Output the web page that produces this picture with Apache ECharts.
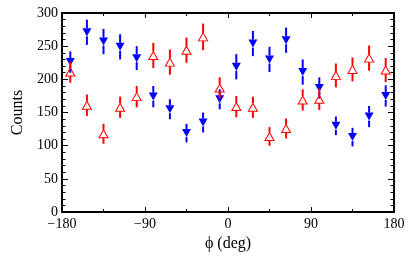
<!DOCTYPE html>
<html><head><meta charset="utf-8">
<script src="https://cdn.jsdelivr.net/npm/echarts@6/dist/echarts.min.js"></script>
<style>html,body{margin:0;padding:0;background:#fff}#c{width:415px;height:257px}</style>
</head><body><div id="c"></div>
<script>
const phi = [-171,-153,-135,-117,-99,-81,-63,-45,-27,-9,9,27,45,63,81,99,117,135,153,171];
const blueCounts = [226,271,257,249,232,174,155,119,135,170,219,254,230,259,211,187,130,113,144,175];
const blueErr = [16,19,19,19,18,16,15,14,15,15,19,19,19,19,19,16,14,14,16,16];
const redCounts = [211,161,118,158,174,236,226,244,264,187,159,158,114,126,169,170,206,215,232,214];
const redErr = [16,16,15,16,16,19,19,19,20,16,16,16,14,15,16,16,18,18,19,18];
const xTicks = [-180,-90,0,90,180];
const yTicks = [0,50,100,150,200,250,300];

const FONT = 'Liberation Serif';
function errSeries(vals, errs, color, z){
  return {
    type:'custom', z:z, silent:true,
    data: phi.map((p,i)=>[p, vals[i], errs[i]]),
    renderItem: function(params, api){
      const x = api.value(0), y = api.value(1), e = api.value(2);
      const c = api.coord([x,y]);
      const t = api.coord([x,y+e]);
      const b = api.coord([x,y-e]);
      const gap = 4;
      return {type:'group', children:[
        {type:'line', shape:{x1:c[0],y1:t[1],x2:c[0],y2:c[1]-gap}, style:{stroke:color,lineWidth:2}},
        {type:'line', shape:{x1:c[0],y1:c[1]+gap,x2:c[0],y2:b[1]}, style:{stroke:color,lineWidth:2}}
      ]};
    }
  };
}
const axisCommon = {
  axisLine:{show:true, onZero:false, lineStyle:{color:'#000', width:2}},
  splitLine:{show:false}
};
const chart = echarts.init(document.getElementById('c'), null, {renderer:'canvas'});
chart.setOption({
  animation:false,
  grid:{left:62, right:21, top:13, bottom:39},
  xAxis:[
    Object.assign({type:'value', position:'bottom', min:xTicks[0], max:xTicks[xTicks.length-1], interval:90,
      axisTick:{inside:true, length:5, lineStyle:{color:'#000'}},
      minorTick:{show:true, splitNumber:2, length:3, lineStyle:{color:'#000'}},
      axisLabel:{fontFamily:FONT, fontSize:14, color:'#000', margin:5,
        formatter:v=>String(v).replace('-', '\u2212')},
      name:'\u03d5 (deg)', nameLocation:'middle', nameGap:21,
      nameTextStyle:{fontFamily:FONT, fontSize:16, color:'#000'}
    }, axisCommon),
    Object.assign({type:'value', position:'top', min:-180, max:180, interval:90,
      axisTick:{inside:true, length:5, lineStyle:{color:'#000'}},
      minorTick:{show:true, splitNumber:2, length:3, lineStyle:{color:'#000'}},
      axisLabel:{show:false}
    }, axisCommon)
  ],
  yAxis:[
    Object.assign({type:'value', position:'left', min:yTicks[0], max:yTicks[yTicks.length-1], interval:50,
      axisTick:{inside:true, length:6, lineStyle:{color:'#000'}},
      minorTick:{show:true, splitNumber:5, length:3.5, lineStyle:{color:'#000'}},
      axisLabel:{fontFamily:FONT, fontSize:14, color:'#000', margin:4},
      name:'Counts', nameLocation:'middle', nameGap:31, nameRotate:90,
      nameTextStyle:{fontFamily:FONT, fontSize:16, color:'#000'}
    }, axisCommon),
    Object.assign({type:'value', position:'right', min:0, max:300, interval:50,
      axisTick:{inside:true, length:6, lineStyle:{color:'#000'}},
      minorTick:{show:true, splitNumber:5, length:3.5, lineStyle:{color:'#000'}},
      axisLabel:{show:false}
    }, axisCommon)
  ],
  series:[
    errSeries(blueCounts, blueErr, '#0000ff', 2),
    {type:'scatter', z:3, data: phi.map((p,i)=>[p, blueCounts[i]]), symbol:'triangle', symbolRotate:180,
      symbolSize:[9,8], itemStyle:{color:'#0000ff', opacity:1}},
    errSeries(redCounts, redErr, '#ff0000', 4),
    {type:'scatter', z:5, data: phi.map((p,i)=>[p, redCounts[i]]), symbol:'triangle',
      symbolSize:[9,8], itemStyle:{color:'rgba(255,255,255,0)', borderColor:'#ff0000', borderWidth:1, opacity:1}}
  ]
});
</script></body></html>
